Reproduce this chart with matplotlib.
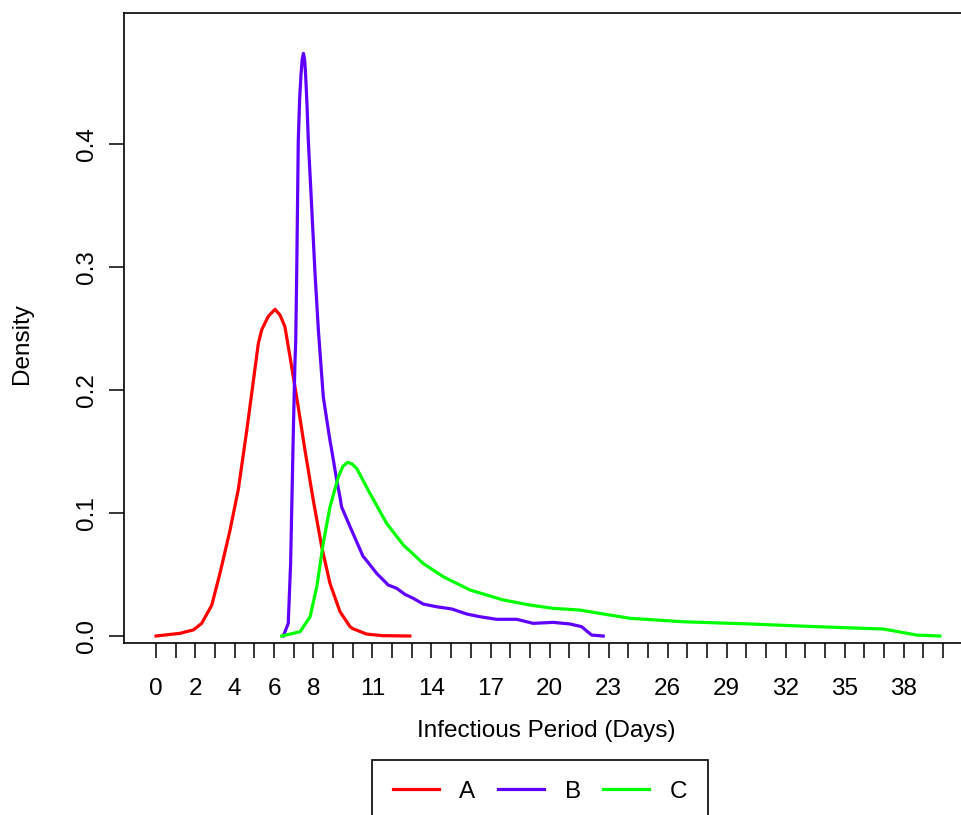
import numpy as np
import matplotlib.pyplot as plt

plt.rcParams['font.family'] = ['Liberation Sans', 'DejaVu Sans']

############# Curve values #############

a_x = [0.0, 1.22, 1.9, 2.32, 2.83, 3.25, 3.76, 4.18, 4.61, 4.86, 5.2, 5.37, 5.71,
       6.05, 6.3, 6.55, 6.81, 7.23, 7.57, 7.99, 8.42, 8.84, 9.35, 9.86, 10.0,
       10.7, 11.5, 12.9]
a_y = [0.0, 0.0022, 0.005, 0.0103, 0.025, 0.051, 0.086, 0.119, 0.167, 0.197, 0.238,
       0.249, 0.260, 0.2656, 0.261, 0.2515, 0.227, 0.186, 0.151, 0.1106, 0.0726,
       0.0428, 0.0198, 0.0076, 0.006, 0.0016, 0.0003, 0.0]

b_x = [6.47, 6.72, 6.84, 6.98, 7.06, 7.1, 7.15, 7.23, 7.3, 7.37, 7.43, 7.49, 7.55,
       7.6, 7.67, 7.74, 7.91, 8.08, 8.25, 8.5, 8.59, 8.84, 8.93, 9.18, 9.35, 9.43,
       9.86, 10.53, 10.62, 11.21, 11.8, 12.23, 12.65, 13.08, 13.58, 14.26, 15.03,
       15.79, 16.46, 17.31, 18.33, 19.17, 20.19, 21.04, 21.63, 22.14, 22.73]
b_y = [0.0, 0.0103, 0.059, 0.1675, 0.222, 0.24, 0.295, 0.403, 0.437, 0.457, 0.469,
       0.4737, 0.469, 0.457, 0.433, 0.403, 0.349, 0.295, 0.249, 0.1946, 0.185, 0.159,
       0.151, 0.127, 0.113, 0.105, 0.0889, 0.0645, 0.063, 0.051, 0.0415, 0.0388,
       0.0339, 0.0306, 0.026, 0.0238, 0.022, 0.0179, 0.0157, 0.0136, 0.0136, 0.0103,
       0.0111, 0.0098, 0.0076, 0.0008, 0.0]

c_x = [6.39, 7.32, 7.83, 8.17, 8.5, 8.84, 9.27, 9.5, 9.74, 9.95, 10.2, 10.87, 11.72,
       12.57, 13.58, 14.6, 15.96, 17.65, 19.0, 20.19, 21.54, 22.56, 24.09, 26.8,
       30.18, 33.57, 36.95, 37.46, 38.65, 39.84]
c_y = [0.0, 0.0035, 0.0157, 0.040, 0.0754, 0.105, 0.1295, 0.138, 0.1412, 0.140,
       0.1363, 0.116, 0.0916, 0.074, 0.059, 0.0482, 0.0374, 0.0293, 0.0252, 0.0225,
       0.0211, 0.0184, 0.0144, 0.0116, 0.0098, 0.0076, 0.0057, 0.0043, 0.0008, 0.0]

x_labels = ['0', '2', '4', '6', '8', '11', '14', '17', '20', '23', '26', '29', '32', '35', '38']
x_label_pos = [0, 2, 4, 6, 8, 11, 14, 17, 20, 23, 26, 29, 32, 35, 38]
y_ticks = [0.0, 0.1, 0.2, 0.3, 0.4]

##############################################################

fig = plt.figure(figsize=(9.61, 8.15), dpi=100)
ax_w, ax_h = 0.883, 0.773
ax = fig.add_axes([0.129, 0.211, ax_w, ax_h])

ax.plot(a_x, a_y, color='#FF0000', lw=2.3, label='A')
ax.plot(b_x, b_y, color='#5F00FF', lw=2.3, label='B')
ax.plot(c_x, c_y, color='#00FF00', lw=2.3, label='C')

ax.set_xlim(-1.63, 41.5)
ax.set_ylim(-0.0057, 0.5065)

# every day gets a tick, only some of them a label
ax.set_xticks(np.arange(0, 41, 1))
ax.set_xticklabels([x_labels[x_label_pos.index(t)] if t in x_label_pos else '' for t in range(41)])
ax.set_yticks(y_ticks)
ax.set_yticklabels(['0.0', '0.1', '0.2', '0.3', '0.4'], rotation=90, va='center')

ax.tick_params(axis='both', direction='out', length=11, width=1.1, labelsize=17.5)
ax.tick_params(axis='x', pad=14)
ax.tick_params(axis='y', pad=8)

ax.spines['right'].set_visible(False)
for s in ['left', 'top', 'bottom']:
    ax.spines[s].set_linewidth(1.2)

ax.set_xlabel('Infectious Period (Days)', fontsize=17.5, va='center')
ax.set_ylabel('Density', fontsize=17.5, va='center')
ax.xaxis.set_label_coords((546 - 124) / (ax_w * 961), -(731 - 643) / (ax_h * 815))
ax.yaxis.set_label_coords(-(124 - 22) / (ax_w * 961), (643 - 344) / (ax_h * 815))

leg = fig.legend(loc='upper center', bbox_to_anchor=(0.562, 0.0675), ncol=3,
                 fontsize=17.5, handlelength=1.9, handletextpad=0.85, columnspacing=0.92,
                 borderpad=0.85, borderaxespad=0, fancybox=False, edgecolor='black',
                 framealpha=1)
leg.get_frame().set_linewidth(1.2)
for line in leg.get_lines():
    line.set_linewidth(2.3)

plt.savefig('out.png', dpi=100)
plt.close()
